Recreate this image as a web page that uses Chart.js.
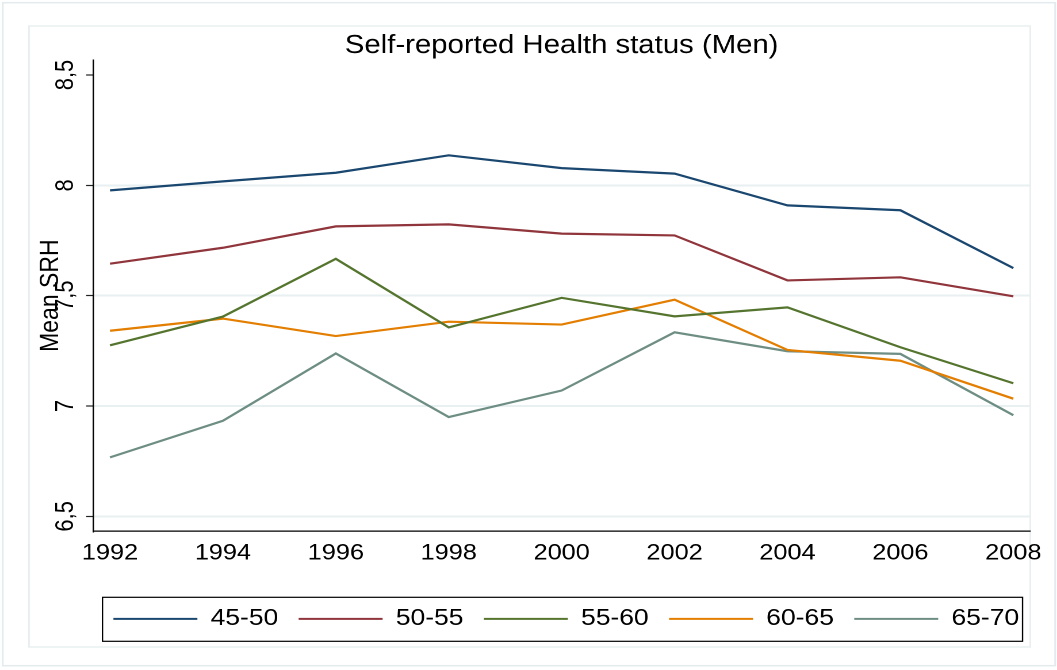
<!DOCTYPE html>
<html>
<head>
<meta charset="utf-8">
<script src="https://cdn.jsdelivr.net/npm/chart.js"></script>
<style>
    html, body { margin: 0; padding: 0; background: #fff; overflow: hidden; }
    /* the reference is a Stata graph stretched sideways, so the chart is drawn narrow and widened */
    #wrap { width: 919px; height: 670px; transform: scaleX(1.1502); transform-origin: 0 0; }
</style>
</head>
<body>
<div id="wrap"><canvas id="chartSRH"></canvas></div>
<script>
// Datos
const years = [1992, 1994, 1996, 1998, 2000, 2002, 2004, 2006, 2008];
const ageGroups = ['45-50', '50-55', '55-60', '60-65', '65-70'];
const srh4550 = [7.977, 8.018, 8.057, 8.136, 8.078, 8.053, 7.909, 7.887, 7.625];
const srh5055 = [7.645, 7.717, 7.814, 7.823, 7.781, 7.773, 7.569, 7.583, 7.497];
const srh5560 = [7.275, 7.405, 7.667, 7.356, 7.490, 7.406, 7.447, 7.266, 7.103];
const srh6065 = [7.341, 7.396, 7.317, 7.382, 7.369, 7.482, 7.254, 7.205, 7.033];
const srh6570 = [6.767, 6.933, 7.238, 6.950, 7.070, 7.334, 7.248, 7.236, 6.958];
const yTicks = [6.5, 7, 7.5, 8, 8.5];
const yTickLabels = ['6,5', '7', '7,5', '8', '8,5'];
const colores = ['#1a476f', '#90353b', '#55752f', '#e37e00', '#6e8e84'];

const FONT = '"Liberation Sans", Arial, Helvetica, sans-serif';
const gridColor = '#e8f0f2';

const series = [srh4550, srh5055, srh5560, srh6065, srh6570];
const datasets = series.map((vals, i) => ({
    label: ageGroups[i],
    data: years.map((x, j) => ({ x: x, y: vals[j] })),
    borderColor: colores[i],
    backgroundColor: colores[i],
    borderWidth: 2.2,
    pointRadius: 0,
    tension: 0
}));

// Marcos, titulo, etiquetas del eje y y caja de leyenda
const stataDecor = {
    id: 'stataDecor',
    beforeDraw(chart) {
        const { ctx, chartArea } = chart;
        ctx.save();
        ctx.fillStyle = '#fff';
        ctx.fillRect(0, 0, chart.width, chart.height);
        ctx.lineWidth = 1.5;
        ctx.strokeStyle = '#e3ebee';
        ctx.strokeRect(2.4, 2.7, 915, 663);
        ctx.strokeStyle = '#e9eff1';
        ctx.strokeRect(25.2, 26, chartArea.right - 25.2, 621);
        ctx.restore();
    },
    afterDraw(chart) {
        const { ctx, chartArea, scales } = chart;
        const y = scales.y;
        ctx.save();
        ctx.fillStyle = '#000';

        // titulo
        ctx.font = '25.5px ' + FONT;
        ctx.textAlign = 'center';
        ctx.textBaseline = 'alphabetic';
        ctx.fillText('Self-reported Health status (Men)', (chartArea.left + chartArea.right) / 2, 53);

        // etiquetas del eje y, giradas
        ctx.font = '22px ' + FONT;
        y.ticks.forEach((t, i) => {
            const py = y.getPixelForValue(t.value);
            ctx.save();
            ctx.translate(chartArea.left - 17.2, py);
            ctx.rotate(-Math.PI / 2);
            ctx.fillText(yTickLabels[i], 0, 0);
            ctx.restore();
        });

        // titulo del eje y
        ctx.font = '23px ' + FONT;
        ctx.save();
        ctx.translate(chartArea.left - 30.2, (chartArea.top + chartArea.bottom) / 2);
        ctx.rotate(-Math.PI / 2);
        ctx.fillText('Mean SRH', 0, 0);
        ctx.restore();

        // caja de la leyenda
        const hb = chart.legend.legendHitBoxes;
        if (hb && hb.length) {
            const first = hb[0];
            const last = hb[hb.length - 1];
            const cy = first.top + first.height / 2;
            ctx.strokeStyle = '#000';
            ctx.lineWidth = 1.2;
            ctx.strokeRect(first.left - 9.5, cy - 21.6, (last.left + last.width + 3) - (first.left - 9.5), 44);
        }
        ctx.restore();
    }
};

const ctx = document.getElementById('chartSRH').getContext('2d');
new Chart(ctx, {
    type: 'line',
    data: { datasets: datasets },
    plugins: [stataDecor],
    options: {
        responsive: true,
        maintainAspectRatio: false,
        animation: false,
        devicePixelRatio: 2,
        layout: { padding: { left: 80.9, right: 0, top: 60, bottom: 29.6 } },
        scales: {
            x: {
                type: 'linear',
                min: 1991.7,
                max: 2008.3,
                afterBuildTicks: s => { s.ticks = years.map(v => ({ value: v })); },
                afterFit: s => { s.height = s.height + 14; },
                grid: { display: false, drawTicks: false },
                border: { display: true, color: '#000', width: 1.3 },
                ticks: {
                    color: '#000',
                    padding: 9,
                    maxRotation: 0,
                    autoSkip: false,
                    font: { family: FONT, size: 22 },
                    callback: v => String(v)
                }
            },
            y: {
                min: 6.432,
                max: 8.568,
                afterBuildTicks: s => { s.ticks = yTicks.map(v => ({ value: v })); },
                afterFit: s => { s.width = 0; },
                grid: {
                    color: c => (c.tick && c.tick.value === 8.5) ? 'rgba(0,0,0,0)' : gridColor,
                    lineWidth: 2,
                    tickColor: '#222',
                    tickLength: 6,
                    tickWidth: 1.2
                },
                border: { display: true, color: '#000', width: 1.3 },
                ticks: { display: false }
            },
            // margen derecho del area de trazado
            margenDer: {
                position: 'right',
                afterFit: s => { s.width = 23.3; },
                grid: { display: false, drawTicks: false },
                border: { display: false },
                ticks: { display: false }
            }
        },
        plugins: {
            title: { display: false },
            tooltip: { enabled: false },
            legend: {
                position: 'bottom',
                align: 'start',
                labels: {
                    color: '#000',
                    boxWidth: 73,
                    boxHeight: 2,
                    padding: 17.7,
                    font: { family: FONT, size: 23 },
                    generateLabels: chart => chart.data.datasets.map((d, i) => ({
                        text: d.label,
                        fillStyle: d.borderColor,
                        strokeStyle: d.borderColor,
                        lineWidth: 0,
                        datasetIndex: i
                    }))
                }
            }
        }
    }
});
</script>
</body>
</html>
